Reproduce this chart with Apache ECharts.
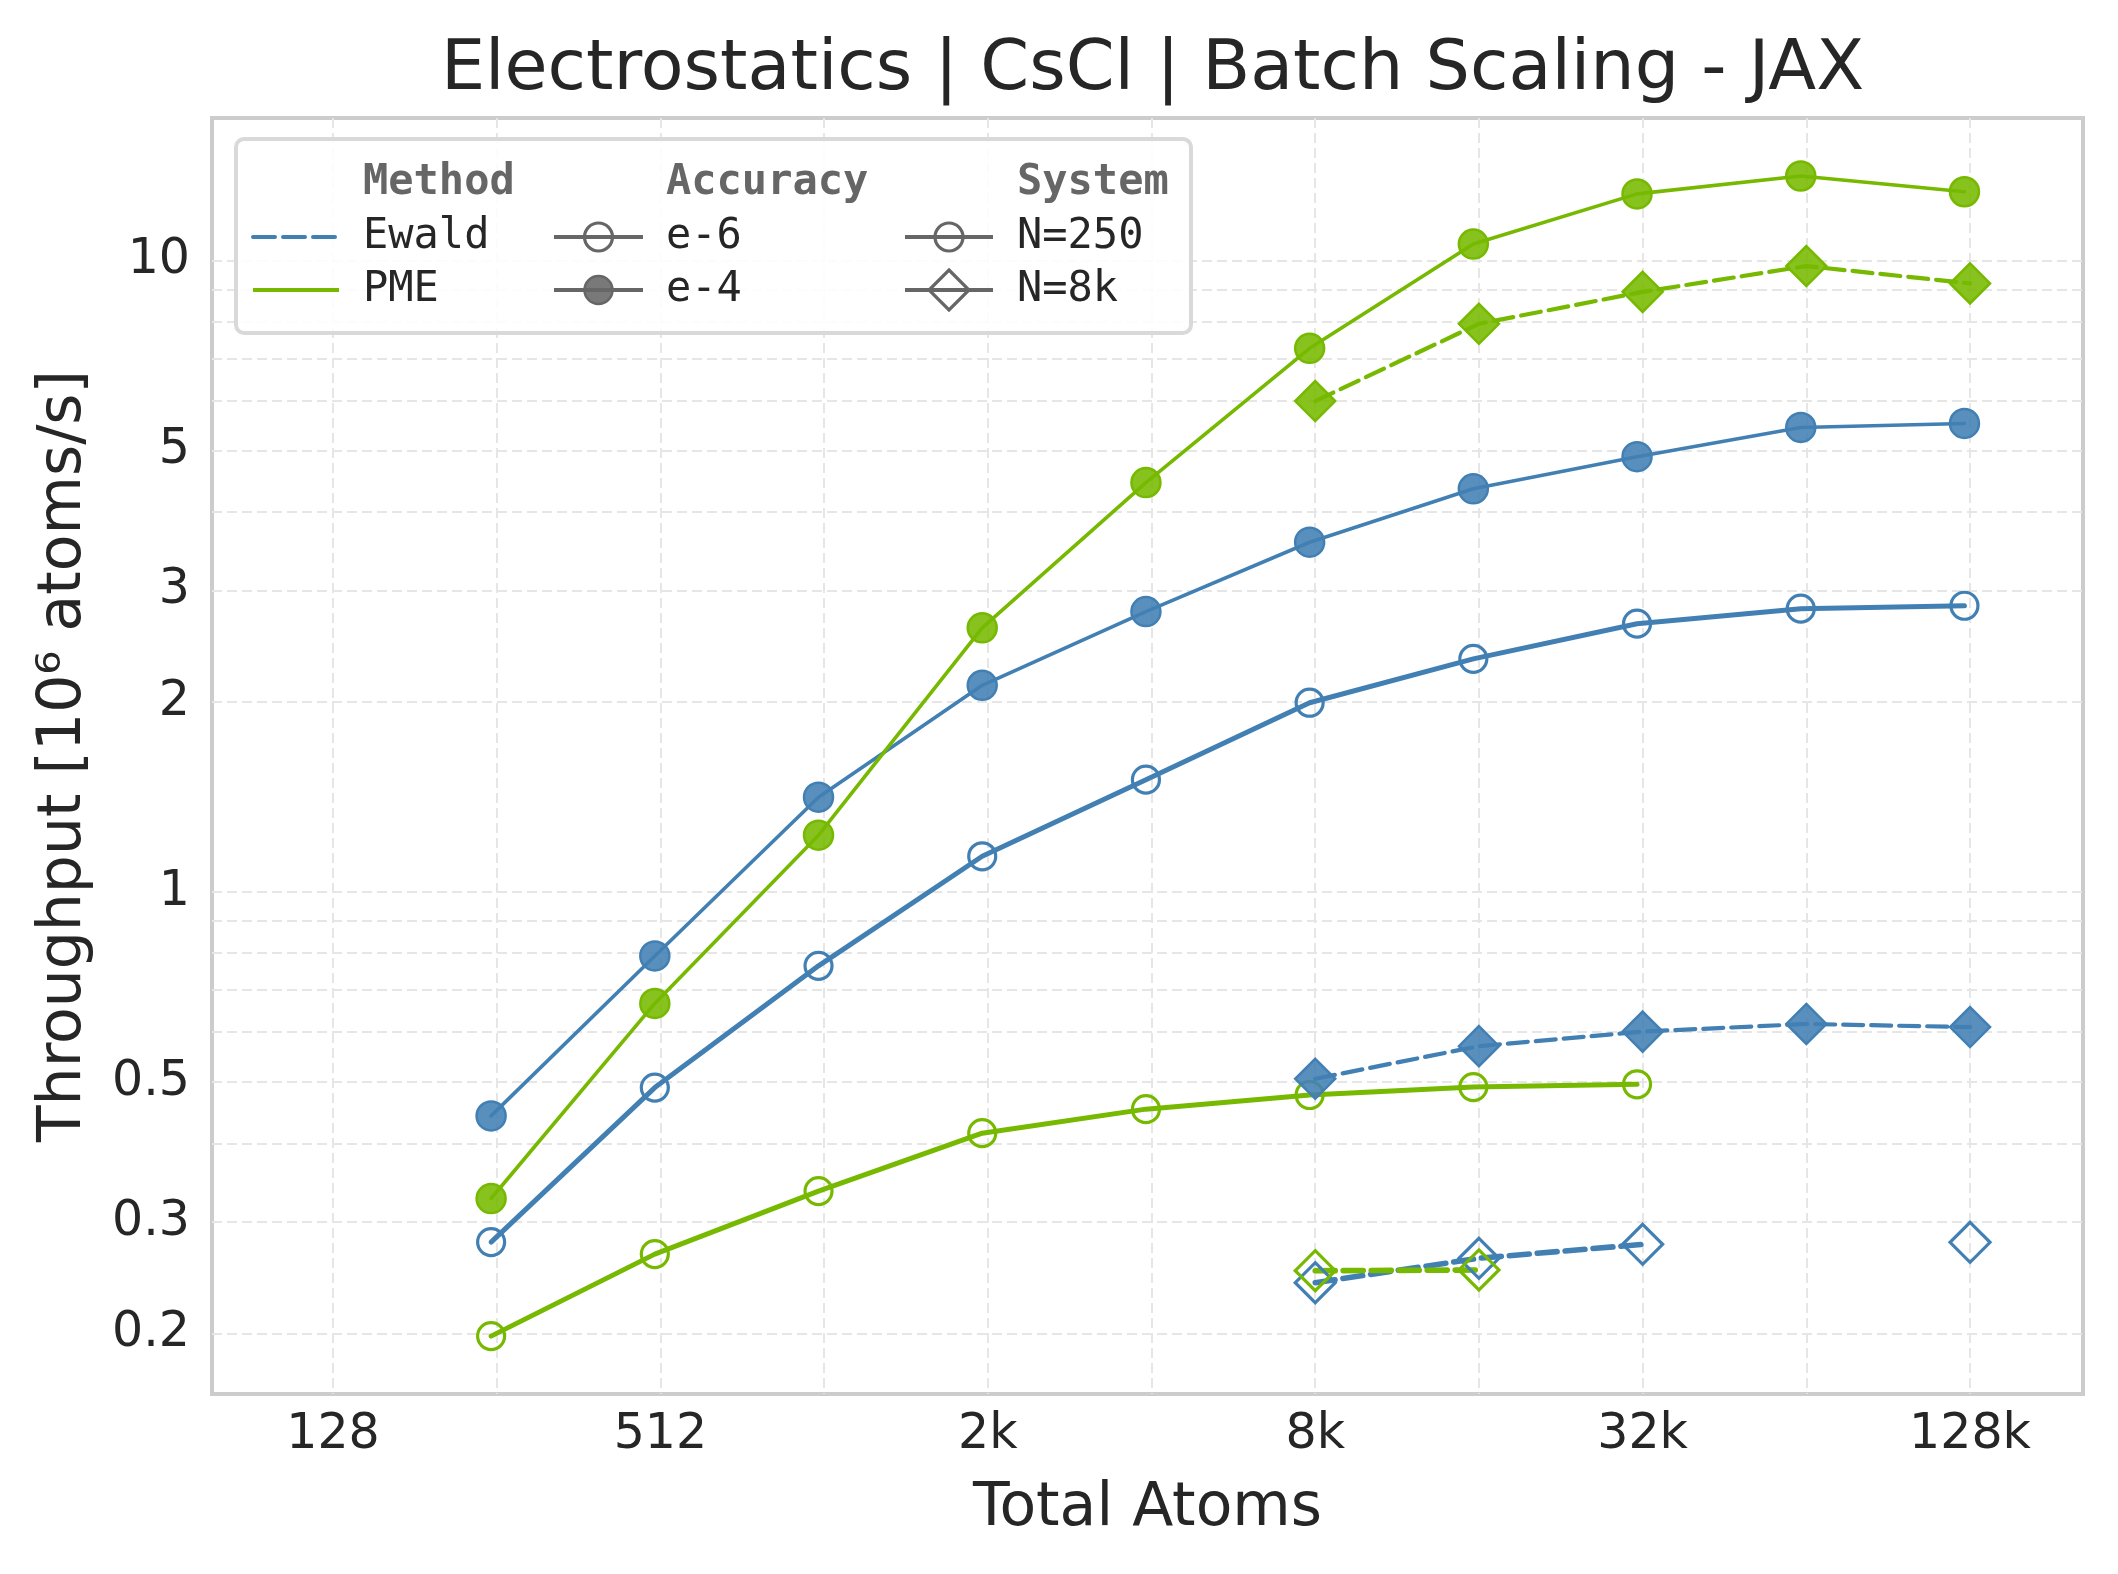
<!DOCTYPE html>
<html>
<head>
<meta charset="utf-8">
<script src="https://cdn.jsdelivr.net/npm/echarts@6/dist/echarts.min.js"></script>
<style>
html,body{margin:0;padding:0;background:#fff;}
#chart{width:2118px;height:1574px;}
</style>
</head>
<body>
<div id="chart"></div>
<script>
// ---------------- data ----------------
const atomsN250 = [250, 500, 1000, 2000, 4000, 8000, 16000, 32000, 64000, 128000];
const atomsN8k  = [8192, 16384, 32768, 65536, 131072];

const ewaldE4N250 = [0.442, 0.792, 1.413, 2.125, 2.78, 3.58, 4.35, 4.89, 5.44, 5.52];
const ewaldE6N250 = [0.279, 0.490, 0.764, 1.139, 1.506, 1.994, 2.34, 2.66, 2.81, 2.84];
const pmeE4N250   = [0.327, 0.666, 1.23, 2.62, 4.45, 7.26, 10.62, 12.75, 13.61, 12.85];
const pmeE6N250   = [0.198, 0.267, 0.336, 0.415, 0.453, 0.477, 0.491, 0.496];

const ewaldE4N8k = [0.506, 0.570, 0.601, 0.618, 0.611];
const ewaldE6N8k = [0.2406, 0.263, 0.2767, null, 0.2788];
const pmeE4N8k   = [5.99, 7.94, 8.92, 9.80, 9.20];
const pmeE6N8k   = [0.2513, 0.252];

const xTickValues = [128, 512, 2048, 8192, 32768, 131072];
const xTickLabels = ['128', '512', '2k', '8k', '32k', '128k'];
const xGridValues = [128, 256, 512, 1024, 2048, 4096, 8192, 16384, 32768, 65536, 131072];

const yTickValues = [0.2, 0.3, 0.5, 1, 2, 3, 5, 10];
const yTickLabels = ['0.2', '0.3', '0.5', '1', '2', '3', '5', '10'];
const yGridValues = [0.2, 0.3, 0.4, 0.5, 0.6, 0.7, 0.8, 0.9, 1, 2, 3, 4, 5, 6, 7, 8, 9, 10];

const titleText = 'Electrostatics | CsCl | Batch Scaling - JAX';
const xName = 'Total Atoms';
const yName = 'Throughput [10\u2076 atoms/s]';

// ---------------- style ----------------
const BLUE = '#4280b4';
const BLUE_FILL = 'rgba(66,128,180,0.88)';
const GREEN = '#76b900';
const GREEN_FILL = 'rgba(118,185,0,0.88)';
const GRAY = '#666666';
const GRAY_FILL = 'rgba(102,102,102,0.88)';
const TXT = '#262626';
const SANS = 'DejaVu Sans';
const MONO = 'DejaVu Sans Mono';

const X_MIN = Math.pow(2, 6.2608);
const X_MAX = Math.pow(2, 17.690);
const Y_MIN = Math.pow(10, -0.795);
const Y_MAX = Math.pow(10, 1.2257);

function zip(xs, ys) { return ys.map((v, i) => [xs[i], v]); }

function makeSeries(name, xs, ys, color, fill, filled, symbol, dashed, accuracyE6) {
  const lw = accuracyE6 ? 5 : 3.6;
  const isDiamond = symbol === 'diamond';
  return {
    name: name,
    type: 'line',
    data: zip(xs, ys),
    connectNulls: false,
    symbol: symbol,
    symbolSize: isDiamond ? 40 : (filled ? 29 : 27),
    showSymbol: true,
    animation: false,
    lineStyle: { color: color, width: dashed ? lw + 0.6 : lw, type: dashed ? [20, 8] : 'solid', cap: 'round' },
    itemStyle: filled
      ? { color: fill, borderColor: color, borderWidth: 2.5, opacity: 1 }
      : { color: 'rgba(0,0,0,0)', borderColor: color, borderWidth: 3.2 },
    emphasis: { disabled: true }
  };
}

const series = [
  makeSeries('Ewald e-6 N=250', atomsN250, ewaldE6N250, BLUE, BLUE_FILL, false, 'circle', false, true),
  makeSeries('Ewald e-4 N=250', atomsN250, ewaldE4N250, BLUE, BLUE_FILL, true, 'circle', false, false),
  makeSeries('PME e-6 N=250', atomsN250, pmeE6N250, GREEN, GREEN_FILL, false, 'circle', false, true),
  makeSeries('PME e-4 N=250', atomsN250, pmeE4N250, GREEN, GREEN_FILL, true, 'circle', false, false),
  makeSeries('Ewald e-6 N=8k', atomsN8k, ewaldE6N8k, BLUE, BLUE_FILL, false, 'diamond', true, true),
  makeSeries('Ewald e-4 N=8k', atomsN8k, ewaldE4N8k, BLUE, BLUE_FILL, true, 'diamond', true, false),
  makeSeries('PME e-6 N=8k', atomsN8k, pmeE6N8k, GREEN, GREEN_FILL, false, 'diamond', true, true),
  makeSeries('PME e-4 N=8k', atomsN8k, pmeE4N8k, GREEN, GREEN_FILL, true, 'diamond', true, false)
];

// ---------------- legend (graphic) ----------------
const legendCols = [
  { title: 'Method', textX: 363, sx1: 253, sx2: 339, entries: [
      { label: 'Ewald', color: BLUE, dash: [22, 8], marker: null },
      { label: 'PME', color: GREEN, dash: null, marker: null } ] },
  { title: 'Accuracy', textX: 666, sx1: 554, sx2: 643, entries: [
      { label: 'e-6', color: GRAY, dash: null, marker: 'circle', filled: false },
      { label: 'e-4', color: GRAY, dash: null, marker: 'circle', filled: true } ] },
  { title: 'System', textX: 1017, sx1: 905, sx2: 993, entries: [
      { label: 'N=250', color: GRAY, dash: null, marker: 'circle', filled: false },
      { label: 'N=8k', color: GRAY, dash: null, marker: 'diamond', filled: false } ] }
];
const legendRowY = [183, 237, 290];
const legendGraphics = [{
  type: 'rect', z: 100,
  shape: { x: 236, y: 139, width: 955, height: 194, r: 8 },
  style: { fill: 'rgba(255,255,255,0.85)', stroke: '#d9d9d9', lineWidth: 4 }
}];
legendCols.forEach(col => {
  legendGraphics.push({ type: 'text', z: 101, x: col.textX, y: legendRowY[0],
    style: { text: col.title, font: 'bold 42px "' + MONO + '"', fill: GRAY, verticalAlign: 'middle', align: 'left' } });
  col.entries.forEach((e, i) => {
    const y = legendRowY[i + 1];
    legendGraphics.push({ type: 'line', z: 101,
      shape: { x1: col.sx1, y1: y, x2: col.sx2, y2: y },
      style: { stroke: e.color, lineWidth: 4, lineDash: e.dash || null, lineCap: e.dash ? 'round' : 'butt' } });
    if (e.marker) {
      const cx = (col.sx1 + col.sx2) / 2;
      if (e.marker === 'circle') {
        legendGraphics.push({ type: 'circle', z: 102, shape: { cx: cx, cy: y, r: 14 },
          style: { fill: e.filled ? GRAY_FILL : 'rgba(0,0,0,0)', stroke: e.color, lineWidth: e.filled ? 2.5 : 3.2 } });
      } else {
        legendGraphics.push({ type: 'polygon', z: 102,
          shape: { points: [[cx, y - 20], [cx + 20, y], [cx, y + 20], [cx - 20, y]] },
          style: { fill: 'rgba(0,0,0,0)', stroke: e.color, lineWidth: 3.2 } });
      }
    }
    legendGraphics.push({ type: 'text', z: 101, x: col.textX, y: y,
      style: { text: e.label, font: '42px "' + MONO + '"', fill: TXT, verticalAlign: 'middle', align: 'left' } });
  });
});

function nearestLabel(v, values, labels) {
  let best = -1, bd = Infinity;
  values.forEach((t, i) => { const d = Math.abs(Math.log(v) - Math.log(t)); if (d < bd) { bd = d; best = i; } });
  return bd < 1e-3 ? labels[best] : '';
}

const option = {
  backgroundColor: '#ffffff',
  animation: false,
  title: {
    text: titleText,
    left: 1147.5,
    top: 31,
    textAlign: 'center',
    textStyle: { fontFamily: SANS, fontSize: 70, fontWeight: 'normal', color: TXT }
  },
  grid: {
    left: 212, right: 35, top: 118, bottom: 180,
    show: true, borderColor: '#cccccc', borderWidth: 4, backgroundColor: '#ffffff'
  },
  xAxis: {
    type: 'log', logBase: 2, min: X_MIN, max: X_MAX,
    name: xName, nameLocation: 'middle', nameGap: 115,
    nameTextStyle: { fontFamily: SANS, fontSize: 60, color: TXT, verticalAlign: 'middle' },
    axisLine: { show: false },
    axisTick: { show: false, customValues: xGridValues },
    axisLabel: {
      customValues: xTickValues,
      margin: 17,
      fontFamily: SANS, fontSize: 49, color: TXT,
      formatter: v => nearestLabel(v, xTickValues, xTickLabels)
    },
    splitLine: { show: true, lineStyle: { color: '#e6e6e6', width: 2, type: [10, 5] } },
    minorSplitLine: { show: false }
  },
  yAxis: {
    type: 'log', logBase: 10, min: Y_MIN, max: Y_MAX,
    name: yName, nameLocation: 'middle', nameGap: 148, nameRotate: 90,
    nameTextStyle: { fontFamily: SANS, fontSize: 60, color: TXT, verticalAlign: 'middle' },
    axisLine: { show: false },
    axisTick: { show: false, customValues: yGridValues },
    axisLabel: {
      customValues: yTickValues,
      margin: 22,
      fontFamily: SANS, fontSize: 49, color: TXT,
      formatter: v => nearestLabel(v, yTickValues, yTickLabels)
    },
    splitLine: { show: true, lineStyle: { color: '#e6e6e6', width: 2, type: [10, 5] } }
  },
  graphic: legendGraphics,
  series: series
};

const chart = echarts.init(document.getElementById('chart'), null, { renderer: 'canvas', width: 2118, height: 1574 });
chart.setOption(option);
</script>
</body>
</html>
